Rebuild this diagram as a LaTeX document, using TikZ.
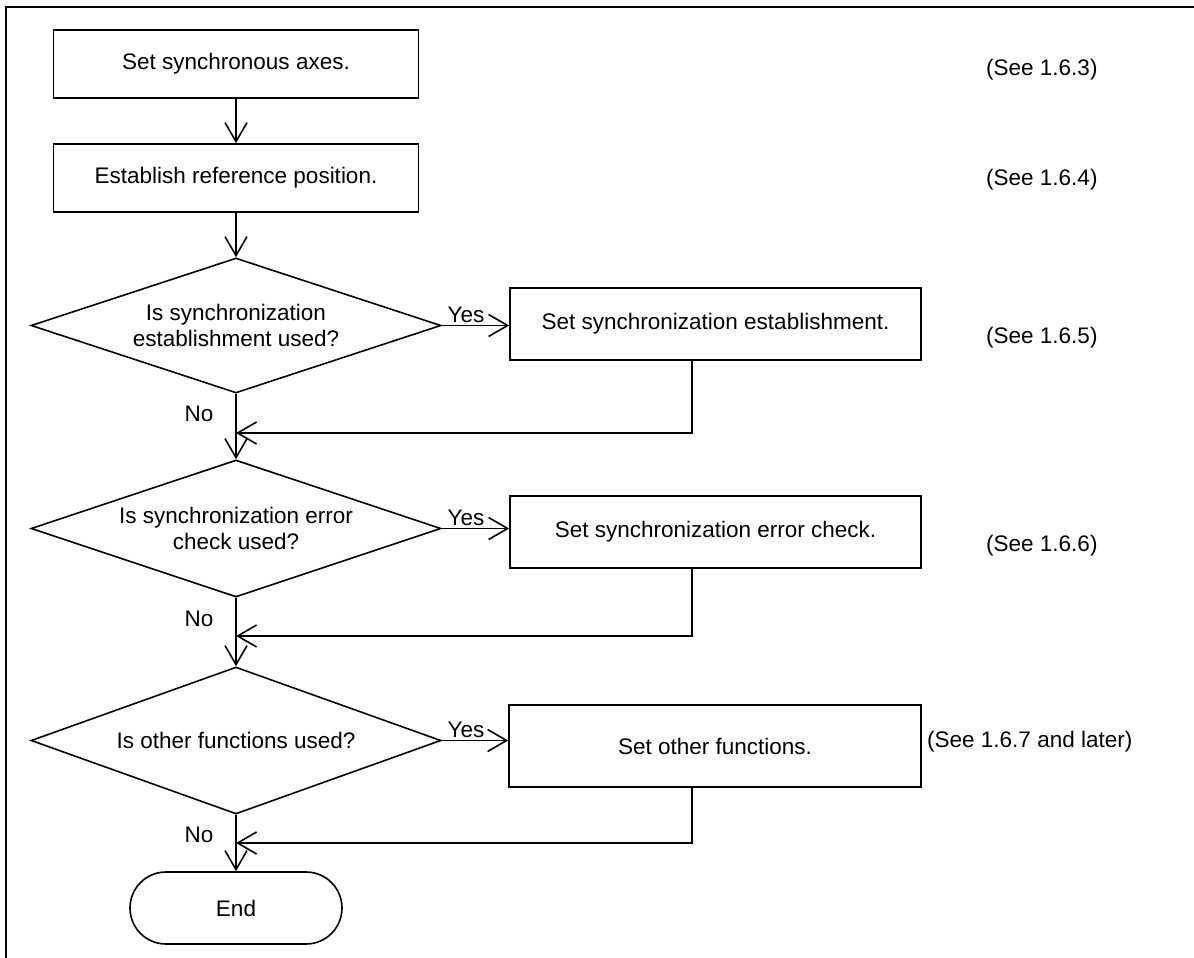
\documentclass[tikz,border=0pt]{standalone}
\usepackage{fontspec}
\setmainfont{Liberation Sans}
\usetikzlibrary{arrows.meta,shapes.geometric,shapes.misc}

\begin{document}
\begin{tikzpicture}[x=1pt,y=-1pt,
  every node/.style={font=\fontsize{22.5}{26}\selectfont},
  stepbox/.style={draw, line width=1.6pt, inner sep=0pt, align=center},
  decision/.style={draw, diamond, line width=1.6pt, inner sep=0pt, align=center},
  terminal/.style={draw, rounded rectangle, line width=1.6pt, inner sep=0pt,
    minimum width=212pt, minimum height=72pt},
  lbl/.style={inner sep=0pt},
  flow/.style={line width=1.6pt, -{Straight Barb[length=19pt,width=22pt]}},
  frame/.style={line width=2.6pt}
]
\useasboundingbox (0,0) rectangle (1194,958);

% page frame
\draw[frame] (6,960) -- (6,7) -- (1196,7);

% main column
\node[stepbox, minimum width=365pt, minimum height=68pt] (b1) at (236,64) {Set synchronous axes.};
\node[stepbox, minimum width=365pt, minimum height=68pt] (b2) at (236,178) {Establish reference position.};
\node[decision, aspect=3.037, minimum width=410pt, minimum height=135pt] (d1) at (236,325.5)
  {Is synchronization\\establishment used?};
\node[decision, aspect=2.993, minimum width=410pt, minimum height=137pt] (d2) at (236,528.5)
  {Is synchronization error\\check used?};
\node[decision, aspect=2.789, minimum width=410pt, minimum height=147pt] (d3) at (236,740.5)
  {Is other functions used?};
\node[terminal] (end) at (236,908) {End};

% side actions
\node[stepbox, minimum width=411pt, minimum height=72pt] (s1) at (715.5,324) {Set synchronization establishment.};
\node[stepbox, minimum width=411pt, minimum height=72pt] (s2) at (715.5,532) {Set synchronization error check.};
\node[stepbox, minimum width=412pt, minimum height=82pt] (s3) at (715,746) {Set other functions.};

% references
\node[lbl, anchor=west] (r1) at (986,70) {(See 1.6.3)};
\node[lbl, anchor=west] (r2) at (986,180) {(See 1.6.4)};
\node[lbl, anchor=west] (r3) at (986,338) {(See 1.6.5)};
\node[lbl, anchor=west] (r4) at (986,546) {(See 1.6.6)};
\node[lbl, anchor=west] (r5) at (927,742) {(See 1.6.7 and later)};

% merge points
\coordinate (j1) at (236,433);
\coordinate (j2) at (236,636);
\coordinate (j3) at (236,843);
\coordinate (c1) at (692,433);
\coordinate (c2) at (692,636);
\coordinate (c3) at (692,843);

% main flow
\draw[flow] (b1.south) -- (b2.north);
\draw[flow] (b2.south) -- (d1.north);
\draw[flow] (d1.south) -- (d2.north);
\draw[flow] (d2.south) -- (d3.north);
\draw[flow] (d3.south) -- (end.north);

% yes branches
\draw[flow] (d1.east) -- (d1.east -| s1.west);
\draw[flow] (d2.east) -- (d2.east -| s2.west);
\draw[flow] (d3.east) -- (d3.east -| s3.west);

% returns
\draw[flow] (s1.south -| c1) -- (c1) -- (j1);
\draw[flow] (s2.south -| c2) -- (c2) -- (j2);
\draw[flow] (s3.south -| c3) -- (c3) -- (j3);

% branch labels
\node[lbl, anchor=base] (y1) at (466,322) {Yes};
\node[lbl, anchor=base] (y2) at (466,525) {Yes};
\node[lbl, anchor=base] (y3) at (466,737) {Yes};
\node[lbl, anchor=base] (n1) at (199,421) {No};
\node[lbl, anchor=base] (n2) at (199,626) {No};
\node[lbl, anchor=base] (n3) at (199,842) {No};
\end{tikzpicture}
\end{document}
